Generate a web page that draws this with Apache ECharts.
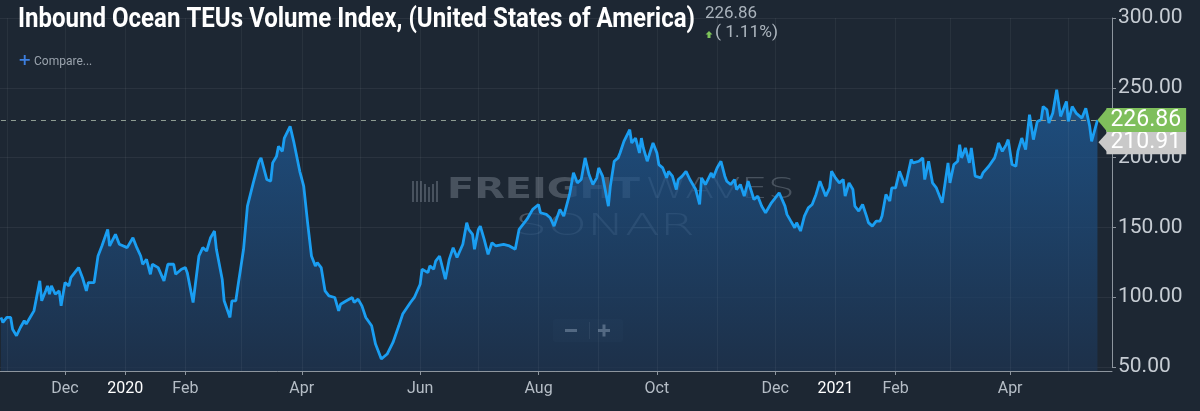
<!DOCTYPE html>
<html><head><meta charset="utf-8">
<script src="https://cdn.jsdelivr.net/npm/echarts@6/dist/echarts.min.js"></script>
<style>html,body{margin:0;padding:0;background:#1d2733;}#c{width:1200px;height:411px;}</style>
</head><body><div id="c"></div>
<script>
const titleText = 'Inbound Ocean TEUs Volume Index, (United States of America)';
const lastValue = 226.86;
const refValue = 210.91;
const changePct = 1.11;
const yTicks = [50, 100, 150, 200, 250, 300];
const xLabelDates = ['2019-12-01','2020-01-01','2020-02-01','2020-04-01','2020-06-01','2020-08-01','2020-10-01','2020-12-01','2021-01-01','2021-02-01','2021-04-01'];
const gridMonths = ['2019-11-01','2019-12-01','2020-01-01','2020-02-01','2020-03-01','2020-04-01','2020-05-01','2020-06-01','2020-07-01','2020-08-01','2020-09-01','2020-10-01','2020-11-01','2020-12-01','2021-01-01','2021-02-01','2021-03-01','2021-04-01','2021-05-01'];
const axisStart = '2019-10-28 12:00';
const axisEnd = '2021-05-23 12:00';
const dates = [
'2019-10-29','2019-10-30','2019-11-01','2019-11-03','2019-11-04','2019-11-06','2019-11-08','2019-11-10','2019-11-11','2019-11-13',
'2019-11-15','2019-11-16','2019-11-18','2019-11-19','2019-11-21','2019-11-22','2019-11-23','2019-11-24','2019-11-26','2019-11-28',
'2019-11-29','2019-12-01','2019-12-03','2019-12-04','2019-12-06','2019-12-08','2019-12-10','2019-12-12','2019-12-13','2019-12-16',
'2019-12-18','2019-12-20','2019-12-23','2019-12-24','2019-12-27','2019-12-29','2020-01-02','2020-01-05','2020-01-07','2020-01-09',
'2020-01-10','2020-01-12','2020-01-14','2020-01-15','2020-01-18','2020-01-21','2020-01-23','2020-01-26','2020-01-27','2020-01-30',
'2020-02-01','2020-02-02','2020-02-05','2020-02-08','2020-02-10','2020-02-12','2020-02-14','2020-02-15','2020-02-16','2020-02-17',
'2020-02-20','2020-02-21','2020-02-24','2020-02-25','2020-02-27','2020-02-28','2020-03-02','2020-03-04','2020-03-07','2020-03-10',
'2020-03-11','2020-03-14','2020-03-16','2020-03-17','2020-03-19','2020-03-20','2020-03-22','2020-03-23','2020-03-26','2020-03-27',
'2020-03-28','2020-03-31','2020-04-02','2020-04-04','2020-04-06','2020-04-08','2020-04-09','2020-04-11','2020-04-13','2020-04-15',
'2020-04-18','2020-04-20','2020-04-21','2020-04-24','2020-04-27','2020-04-28','2020-04-30','2020-05-02','2020-05-04','2020-05-07',
'2020-05-09','2020-05-12','2020-05-15','2020-05-18','2020-05-21','2020-05-23','2020-05-27','2020-05-29','2020-06-01','2020-06-02',
'2020-06-05','2020-06-06','2020-06-08','2020-06-09','2020-06-11','2020-06-14','2020-06-16','2020-06-18','2020-06-20','2020-06-23',
'2020-06-25','2020-06-26','2020-06-28','2020-06-29','2020-07-01','2020-07-02','2020-07-04','2020-07-06','2020-07-08','2020-07-10',
'2020-07-14','2020-07-17','2020-07-20','2020-07-22','2020-07-26','2020-07-29','2020-08-01','2020-08-02','2020-08-05','2020-08-07',
'2020-08-09','2020-08-12','2020-08-14','2020-08-17','2020-08-19','2020-08-21','2020-08-23','2020-08-25','2020-08-27','2020-08-29',
'2020-08-31','2020-09-01','2020-09-03','2020-09-06','2020-09-07','2020-09-09','2020-09-11','2020-09-12','2020-09-14','2020-09-17',
'2020-09-18','2020-09-20','2020-09-22','2020-09-23','2020-09-24','2020-09-26','2020-09-29','2020-10-01','2020-10-02','2020-10-04',
'2020-10-06','2020-10-07','2020-10-09','2020-10-11','2020-10-12','2020-10-14','2020-10-16','2020-10-18','2020-10-19','2020-10-21',
'2020-10-23','2020-10-24','2020-10-26','2020-10-29','2020-10-30','2020-11-01','2020-11-03','2020-11-05','2020-11-06','2020-11-08',
'2020-11-10','2020-11-11','2020-11-13','2020-11-15','2020-11-17','2020-11-20','2020-11-22','2020-11-24','2020-11-26','2020-11-29',
'2020-12-01','2020-12-03','2020-12-06','2020-12-07','2020-12-09','2020-12-11','2020-12-12','2020-12-14','2020-12-16','2020-12-18',
'2020-12-20','2020-12-22','2020-12-24','2020-12-25','2020-12-27','2020-12-29','2020-12-30','2021-01-01','2021-01-03','2021-01-05',
'2021-01-06','2021-01-08','2021-01-10','2021-01-11','2021-01-13','2021-01-15','2021-01-17','2021-01-18','2021-01-20','2021-01-22',
'2021-01-24','2021-01-25','2021-01-27','2021-01-29','2021-01-30','2021-02-01','2021-02-03','2021-02-04','2021-02-06','2021-02-09',
'2021-02-10','2021-02-13','2021-02-15','2021-02-16','2021-02-18','2021-02-20','2021-02-22','2021-02-23','2021-02-25','2021-02-28',
'2021-03-01','2021-03-03','2021-03-05','2021-03-06','2021-03-07','2021-03-09','2021-03-11','2021-03-12','2021-03-14','2021-03-17',
'2021-03-18','2021-03-21','2021-03-24','2021-03-25','2021-03-26','2021-03-28','2021-03-30','2021-03-31','2021-04-02','2021-04-04',
'2021-04-05','2021-04-07','2021-04-09','2021-04-11','2021-04-13','2021-04-15','2021-04-17','2021-04-18','2021-04-20','2021-04-21',
'2021-04-23','2021-04-25','2021-04-27','2021-04-30','2021-05-01','2021-05-03','2021-05-05','2021-05-06','2021-05-08','2021-05-10',
'2021-05-12','2021-05-13','2021-05-16'
];
const values = [
85.5,81.9,85.5,85.5,77.1,72.4,78.3,83.1,80.7,85.5,
90.2,89.0,111.7,97.4,104.5,108.1,102.1,108.1,102.1,104.5,
93.8,110.5,108.1,114.0,117.6,121.2,114.0,104.5,110.5,110.5,
129.5,136.7,148.6,136.7,145.0,137.9,135.5,142.6,135.5,129.5,
123.6,127.1,116.4,123.6,121.2,111.7,123.6,123.6,116.4,120.0,
121.2,117.6,96.2,129.5,135.5,133.1,142.6,145.0,147.4,134.3,
112.9,97.4,85.5,97.4,97.4,106.9,134.3,165.2,181.9,197.4,
199.8,184.3,183.1,196.2,201.0,208.1,204.5,214.0,222.4,221.2,
210.5,190.0,179.5,153.4,129.5,122.4,124.8,121.2,104.5,100.9,
99.8,90.2,95.0,97.4,99.8,96.2,98.6,93.8,85.5,79.5,
66.4,55.7,59.3,67.6,79.5,87.9,96.2,99.8,109.3,120.0,
117.6,122.4,120.0,125.9,129.5,112.9,127.1,135.5,128.4,137.9,
153.4,148.6,145.0,134.3,148.6,150.9,141.4,130.7,139.0,136.7,
137.9,136.7,134.3,148.6,155.7,162.9,166.4,160.5,159.3,156.9,
150.9,162.9,158.1,173.6,189.1,181.9,184.3,199.8,187.9,180.7,
185.5,192.6,186.7,165.2,179.5,197.4,199.8,203.3,211.6,220.0,
210.5,214.0,203.3,214.0,206.9,197.4,210.5,203.3,195.0,192.6,
185.5,190.2,186.7,177.1,184.3,186.7,190.2,184.3,185.5,177.1,
166.4,185.5,180.7,189.0,185.5,192.6,197.4,186.7,183.1,180.7,
184.3,177.1,180.7,172.4,183.1,170.0,172.4,165.2,160.5,167.6,
171.2,174.8,165.2,159.3,154.5,149.8,153.4,147.4,158.1,164.0,
166.4,173.6,183.1,179.5,172.4,178.3,190.2,185.5,181.9,184.3,
172.4,181.9,177.1,165.2,161.7,166.4,158.1,153.4,150.9,154.5,
154.5,158.1,173.6,168.8,178.3,178.3,190.2,186.7,179.5,198.6,
196.2,197.4,199.8,184.3,197.4,181.9,178.3,179.5,167.6,196.2,
181.9,195.0,197.4,209.3,199.8,206.9,196.2,206.9,186.7,185.5,
189.0,193.8,199.8,204.5,210.5,204.5,209.3,212.9,195.0,193.8,
204.5,214.0,205.7,230.7,212.9,225.9,227.1,236.6,234.2,224.8,
231.9,248.6,229.5,240.2,225.9,236.6,231.9,233.1,228.3,235.4,
222.4,211.6,226.86
];

const monthNames = ['Jan','Feb','Mar','Apr','May','Jun','Jul','Aug','Sep','Oct','Nov','Dec'];
const P = s => echarts.time.parse(s).getTime();
const chart = echarts.init(document.getElementById('c'));
const lastIdx = dates.length - 1;
const lastTs = P(dates[lastIdx]);
const wmColor = 'rgba(150,160,172,0.36)';
const xTickValues = xLabelDates.map(P);
const mctx = document.createElement('canvas').getContext('2d');
function fitScale(text, font, targetWidth) { mctx.font = font; return targetWidth / mctx.measureText(text).width; }
function wmText(text, font, x, y, w) {
  return { type: 'text', x: x, y: y, scaleX: fitScale(text, font, w), silent: true, style: { text: text, fill: wmColor, font: font } };
}
const titleFont = 'bold 28px Roboto';
const labelFont = { color: '#ffffff', fontSize: 23, fontFamily: 'Roboto', padding: [1, 5, 0, 4] };
const smallFont = '16px Roboto';
const changeText = '( ' + changePct.toFixed(2) + '%)';

chart.setOption({
  backgroundColor: '#1d2733',
  animation: false,
  grid: [
    { left: 0, right: 88, top: 18, bottom: 44 },
    { left: 0, right: 88, top: 18, bottom: 40 }
  ],
  xAxis: [
    { type: 'value', gridIndex: 0, min: P(axisStart), max: P(axisEnd), show: false },
    {
      type: 'value', gridIndex: 1, min: P(axisStart), max: P(axisEnd),
      axisLine: { show: true, lineStyle: { color: '#8d959e', width: 1 } },
      axisTick: { show: true, length: 4, lineStyle: { color: '#8d959e' }, customValues: xTickValues },
      splitLine: { show: false },
      axisLabel: {
        customValues: xTickValues,
        showMinLabel: true, showMaxLabel: true,
        color: '#b5bdc6', fontSize: 16, fontFamily: 'Roboto', margin: 10,
        formatter: v => { const d = new Date(v); return d.getMonth() === 0 ? '{y|' + d.getFullYear() + '}' : monthNames[d.getMonth()]; },
        rich: { y: { color: '#ffffff', fontSize: 16, fontFamily: 'Roboto' } }
      }
    }
  ],
  yAxis: [
    {
      type: 'value', gridIndex: 0, position: 'right', min: yTicks[0], max: yTicks[yTicks.length - 1], interval: 50,
      axisLine: { show: true, lineStyle: { color: '#8d959e' } },
      axisTick: { show: true, length: 4, lineStyle: { color: '#8d959e' } },
      splitLine: { show: true, lineStyle: { color: 'rgba(255,255,255,0.06)', width: 1 } },
      axisLabel: { color: '#c6ccd3', fontSize: 21, fontFamily: 'Roboto', margin: 6, formatter: v => v.toFixed(2) }
    },
    { type: 'value', gridIndex: 1, min: 50 - 4 / (349 / 250), max: 300, show: false }
  ],
  graphic: [
    { type: 'text', x: 18, y: 6, scaleX: fitScale(titleText, titleFont, 677), style: { text: titleText, fill: '#ffffff', font: titleFont } },
    { type: 'text', x: 705, y: 6, scaleX: fitScale(lastValue.toFixed(2), smallFont, 52), style: { text: lastValue.toFixed(2), fill: '#aab3bc', font: smallFont } },
    { type: 'polygon', shape: { points: [[709, 31], [712.5, 34.5], [710.5, 34.5], [710.5, 38], [707.5, 38], [707.5, 34.5], [705.5, 34.5]] }, style: { fill: '#7dc35a' } },
    { type: 'text', x: 715, y: 25, scaleX: fitScale(changeText, smallFont, 63), style: { text: changeText, fill: '#aab3bc', font: smallFont } },
    { type: 'text', left: 18, top: 53, style: { text: '+', fill: '#3d7fe0', font: 'bold 16px DejaVu Sans' } },
    { type: 'text', left: 34, top: 56, style: { text: 'Compare...', fill: '#9aa3ad', font: '12px Roboto' } },
    { type: 'group', left: 412, top: 176, silent: true, children: [
      { type: 'rect', shape: { x: 0, y: 1, width: 2, height: 21 }, style: { fill: wmColor } },
      { type: 'rect', shape: { x: 4, y: 1, width: 2, height: 21 }, style: { fill: wmColor } },
      { type: 'rect', shape: { x: 8, y: 1, width: 2, height: 21 }, style: { fill: wmColor } },
      { type: 'rect', shape: { x: 12, y: 4, width: 2, height: 18 }, style: { fill: wmColor } },
      { type: 'rect', shape: { x: 16, y: 7, width: 2, height: 15 }, style: { fill: wmColor } },
      { type: 'rect', shape: { x: 20, y: 4, width: 2, height: 18 }, style: { fill: wmColor } },
      { type: 'rect', shape: { x: 24, y: 1, width: 2, height: 21 }, style: { fill: wmColor } },
      wmText('FREIGHT', 'bold 29px DejaVu Sans', 35, -4, 193),
      wmText('WAVES', '200 29px DejaVu Sans', 233, -4, 150),
      wmText('SONAR', '200 31px DejaVu Sans', 103, 31, 180)
    ]},
    { type: 'group', left: 553, top: 319, children: [
      { type: 'rect', shape: { x: 0, y: 0, width: 70, height: 23, r: 3 }, style: { fill: 'rgba(38,50,64,0.85)' } },
      { type: 'rect', shape: { x: 36, y: 3, width: 1, height: 17 }, style: { fill: 'rgba(120,130,140,0.5)' } },
      { type: 'rect', shape: { x: 12, y: 10, width: 12, height: 3 }, style: { fill: '#d0d5da' } },
      { type: 'rect', shape: { x: 45, y: 10, width: 12, height: 3 }, style: { fill: '#d0d5da' } },
      { type: 'rect', shape: { x: 49.5, y: 5.5, width: 3, height: 12 }, style: { fill: '#d0d5da' } }
    ]}
  ],
  series: [{
    type: 'line', xAxisIndex: 1, yAxisIndex: 1,
    data: dates.map((d, i) => [P(d), values[i]]),
    showSymbol: false, symbol: 'none',
    lineStyle: { color: '#1a9ef2', width: 2.8 },
    areaStyle: {
      color: { type: 'linear', x: 0, y: 0, x2: 0, y2: 1, colorStops: [
        { offset: 0, color: 'rgba(30,96,162,1)' },
        { offset: 1, color: 'rgba(29,52,82,1)' }
      ]}
    },
    markPoint: {
      silent: true, animation: false, label: { show: false },
      data: [
        { coord: [lastTs, refValue], symbol: 'triangle', symbolRotate: 90, symbolSize: [22, 10], symbolOffset: [6, 0], itemStyle: { color: '#c9c9c9' } },
        { coord: [lastTs, lastValue], symbol: 'triangle', symbolRotate: 90, symbolSize: [24, 10], symbolOffset: [5, 0], itemStyle: { color: '#7fbf5c' } }
      ]
    },
    markLine: {
      silent: true, symbol: 'none', animation: false,
      data: gridMonths.map(m => ({ xAxis: P(m), lineStyle: { color: 'rgba(255,255,255,0.05)', type: 'solid', width: 1 }, label: { show: false } }))
        .concat([
          [
            { coord: [P(dates[lastIdx - 1]), refValue], lineStyle: { color: 'rgba(0,0,0,0)', width: 1 },
              label: Object.assign({ show: true, position: 'end', distance: 9, formatter: refValue.toFixed(2), backgroundColor: '#c9c9c9' }, labelFont) },
            { coord: [lastTs, refValue] }
          ],
          [
            { coord: [P(dates[0]), lastValue], lineStyle: { color: '#8e9c92', type: [5, 5], width: 1 },
              label: Object.assign({ show: true, position: 'end', distance: 9, formatter: lastValue.toFixed(2), backgroundColor: '#7fbf5c' }, labelFont) },
            { coord: [lastTs, lastValue] }
          ]
        ])
    }
  }]
});
</script></body></html>
